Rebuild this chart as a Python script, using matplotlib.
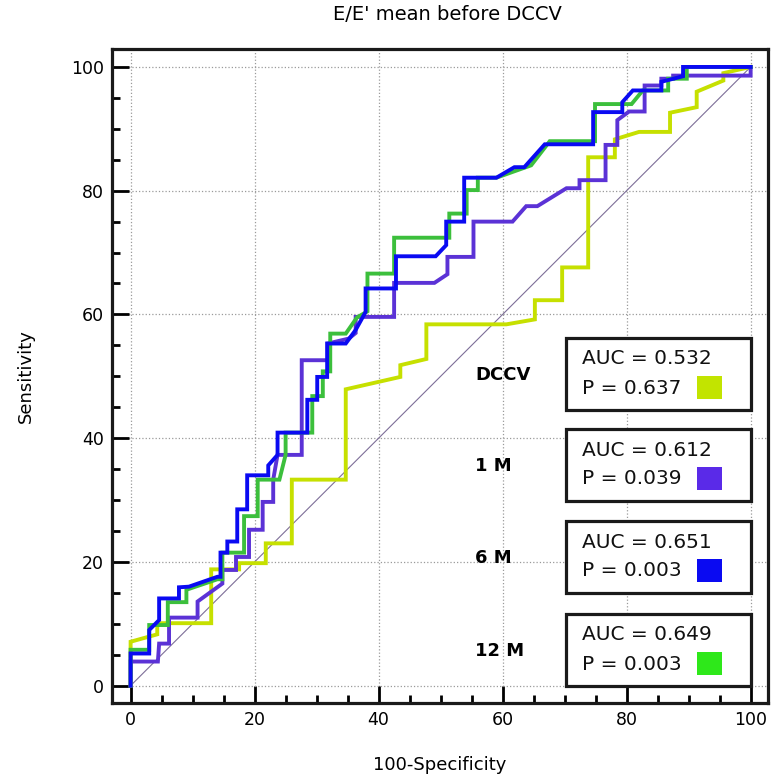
import matplotlib
matplotlib.use("Agg")
import matplotlib.pyplot as plt
from matplotlib.patches import Rectangle
from matplotlib.ticker import MultipleLocator

# ROC curves (x = 100-Specificity, y = Sensitivity)
dccv_x = [0, 0, 4.3, 4.3, 13.0, 13.0, 17.5, 17.5, 21.8, 21.8, 26.0, 26.0, 34.7, 34.7,
          43.5, 43.5, 47.7, 47.7, 60.6, 65.2, 65.2, 69.6, 69.6, 73.8, 73.8, 78.1, 78.1,
          82.0, 87.0, 87.0, 91.3, 91.3, 95.6, 95.6, 100]
dccv_y = [0, 7.1, 8.3, 10.1, 10.1, 18.8, 18.8, 19.8, 19.8, 23.0, 23.0, 33.3, 33.3, 47.9,
          49.9, 51.8, 52.8, 58.4, 58.4, 59.2, 62.3, 62.3, 67.6, 67.6, 85.4, 85.4, 88.3,
          89.5, 89.5, 92.6, 93.5, 96.0, 97.8, 99.0, 100]

m1_x = [0, 0, 4.4, 4.6, 6.2, 6.2, 10.8, 10.8, 14.8, 14.8, 17.0, 17.0, 19.1, 19.1, 21.3,
        21.3, 23.0, 23.0, 23.7, 27.6, 27.6, 31.8, 31.8, 35.2, 36.3, 36.3, 42.5, 42.5,
        49.0, 51.1, 51.1, 55.3, 55.3, 61.6, 63.8, 65.6, 70.3, 72.4, 72.4, 76.6, 76.6,
        78.5, 78.5, 80.4, 82.9, 82.9, 85.6, 85.6, 87.5, 87.5, 100, 100]
m1_y = [0, 3.9, 3.9, 6.8, 6.8, 11.0, 11.0, 13.6, 16.5, 18.7, 18.7, 20.8, 20.8, 25.2, 25.2,
        29.7, 29.7, 33.3, 37.3, 37.3, 52.6, 52.6, 55.3, 56.1, 57.0, 59.6, 59.6, 65.1,
        65.1, 66.5, 69.3, 69.3, 75.0, 75.0, 77.5, 77.5, 80.4, 80.4, 81.7, 81.7, 87.4,
        87.4, 91.4, 92.8, 92.8, 97.0, 97.0, 98.1, 98.1, 98.6, 98.6, 100]

m6_x = [0, 0, 3.0, 3.0, 4.6, 4.6, 7.8, 7.8, 9.4, 14.0, 14.5, 14.5, 15.6, 15.6, 17.2, 17.2,
        18.8, 18.8, 22.2, 22.2, 23.7, 23.7, 28.5, 28.5, 30.1, 30.1, 31.7, 31.7, 34.7,
        36.3, 37.9, 37.9, 42.8, 42.8, 49.2, 50.9, 50.9, 53.8, 53.8, 59.0, 61.9, 63.5,
        66.8, 74.6, 74.6, 79.3, 79.3, 81.0, 85.6, 85.6, 89.1, 89.1, 100]
m6_y = [0, 5.2, 5.2, 9.0, 10.6, 14.1, 14.1, 15.9, 16.0, 17.6, 17.6, 21.5, 21.5, 23.3, 23.3,
        28.5, 28.5, 34.0, 34.0, 35.6, 37.3, 40.9, 40.9, 46.2, 46.2, 49.9, 49.9, 55.3,
        55.3, 57.5, 60.4, 64.2, 64.2, 69.4, 69.4, 71.2, 75.0, 75.0, 82.1, 82.1, 83.8,
        83.8, 87.5, 87.5, 92.7, 92.7, 94.3, 96.2, 96.2, 97.6, 98.5, 100, 100]

m12_x = [0, 0, 3.0, 3.0, 6.0, 6.0, 9.0, 9.0, 14.0, 14.8, 14.8, 18.3, 18.3, 20.5, 20.5,
         24.0, 25.0, 25.0, 29.3, 29.3, 31.0, 31.0, 32.2, 32.2, 34.7, 36.5, 38.2, 38.2,
         42.5, 42.5, 51.4, 51.4, 54.2, 54.2, 56.0, 56.0, 59.0, 64.6, 67.6, 74.9, 74.9,
         80.8, 82.6, 86.7, 86.7, 89.7, 89.7, 100]
m12_y = [0, 5.8, 5.8, 9.8, 9.8, 13.5, 13.5, 15.5, 17.2, 17.2, 21.5, 21.5, 27.4, 27.4, 33.3,
         33.3, 37.3, 40.9, 40.9, 46.8, 46.8, 50.8, 50.8, 56.9, 56.9, 59.5, 60.5, 66.6,
         66.6, 72.4, 72.4, 76.3, 76.3, 80.1, 80.1, 82.1, 82.1, 84.1, 88.0, 88.0, 94.0,
         94.0, 96.2, 96.2, 98.1, 98.1, 100, 100]

groups = ["DCCV", "1 M", "6 M", "12 M"]
auc_values = ["0.532", "0.612", "0.651", "0.649"]
p_values = ["0.637", "0.039", "0.003", "0.003"]

line_colors = ["#c6e000", "#5b32d6", "#0a0af2", "#3cbf3c"]
swatch_colors = ["#c2e400", "#5a2ae8", "#0a0af2", "#2ee81a"]

W, H = 772, 775


def fig_xy(px, py):
    # pixel position (top-left origin) -> figure fraction
    return px / W, 1 - py / H


fig = plt.figure(figsize=(W / 100, H / 100), dpi=100)
ax = fig.add_axes([112 / W, 1 - 703 / H, (768 - 112) / W, (703 - 49) / H])

ax.plot([0, 100], [0, 100], color="#7d6e98", lw=0.8, zorder=2)

curves = [(dccv_x, dccv_y), (m1_x, m1_y), (m12_x, m12_y), (m6_x, m6_y)]
order = [0, 1, 3, 2]
for (xs, ys), ci in zip(curves, order):
    ax.plot(xs, ys, color=line_colors[ci], lw=2.8, solid_joinstyle="miter", zorder=3)

ax.set_xlim(-3.0, 102.8)
ax.set_ylim(-2.8, 102.9)
ax.xaxis.set_major_locator(MultipleLocator(20))
ax.yaxis.set_major_locator(MultipleLocator(20))
ax.xaxis.set_minor_locator(MultipleLocator(5))
ax.yaxis.set_minor_locator(MultipleLocator(5))
ax.tick_params(which="major", direction="in", length=12, width=2.0, labelsize=12.5, pad=6)
ax.tick_params(which="minor", direction="in", length=6, width=2.0)
ax.grid(True, which="major", color="#9a9a9a", ls=":", lw=0.9)
for sp in ax.spines.values():
    sp.set_linewidth(2.3)
    sp.set_color("#1a1a1a")

ax.set_xlabel("100-Specificity", fontsize=13, labelpad=19)
ax.set_ylabel("Sensitivity", fontsize=13, labelpad=26)
fig.text(447 / W, 1 - 15 / H, "E/E' mean before DCCV", fontsize=14,
         ha="center", va="center")

# boxed AUC / P annotations
box_tops = [338, 429, 521, 614]
for i, top in enumerate(box_tops):
    x0, y0 = fig_xy(566, top + 72)
    rect = Rectangle((x0, y0), 185 / W, 72 / H, transform=fig.transFigure,
                     facecolor="white", edgecolor="#1a1a1a", lw=2.3, zorder=5)
    fig.add_artist(rect)
    tx, ty = fig_xy(582, top + 21)
    fig.text(tx, ty, f"AUC = {auc_values[i]}", fontsize=14.5, va="center", ha="left",
             color="#111111", zorder=6)
    tx, ty = fig_xy(582, top + 50)
    fig.text(tx, ty, f"P = {p_values[i]}", fontsize=14.5, va="center", ha="left",
             color="#111111", zorder=6)
    sx, sy = fig_xy(697, top + 61)
    sq = Rectangle((sx, sy), 25 / W, 23 / H, transform=fig.transFigure,
                   facecolor=swatch_colors[i], edgecolor="none", zorder=6)
    fig.add_artist(sq)
    gx, gy = fig_xy(475, top + 37)
    fig.text(gx, gy, groups[i], fontsize=13, fontweight="bold", va="center",
             ha="left", zorder=6)

fig.savefig("out.png", dpi=100)
